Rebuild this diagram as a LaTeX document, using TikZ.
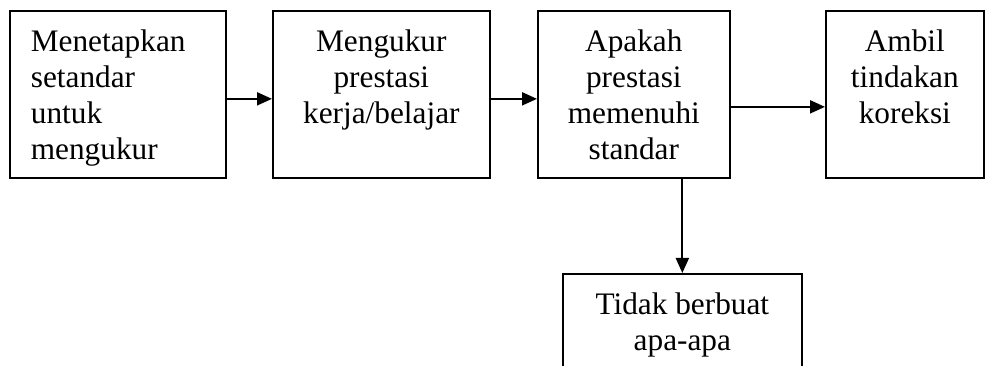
\documentclass[tikz,border=0pt]{standalone}
\usepackage{fontspec}
\setmainfont{Liberation Serif}
\usetikzlibrary{arrows.meta}
\usetikzlibrary{positioning}

\newcommand{\isi}[3][\centering]{\parbox[c][137pt][t]{#2}{#1\strut #3}}

\begin{document}
\begin{tikzpicture}[
  x=1pt, y=-1pt,
  every node/.style={font=\fontsize{31.3}{36}\selectfont},
  kotak/.style={draw, line width=1.7pt, anchor=north west, inner xsep=0pt, inner ysep=15pt},
  panah/.style={line width=2pt, -{Triangle[length=15pt,width=13pt]}}
]
\useasboundingbox (0,0) rectangle (986,366);
\clip (0,0) rectangle (986,366);

\node[kotak, inner xsep=21pt] (tetap) at (9,10) {\isi[\raggedright]{174pt}{Menetapkan\\ setandar\\ untuk\\ mengukur}};
\node[kotak] (ukur) at (272,10) {\isi{217pt}{Mengukur\\ prestasi\\ kerja/belajar}};
\node[kotak] (jawab) at (537,10) {\isi{192pt}{Apakah\\ prestasi\\ memenuhi\\ standar}};
\node[kotak] (koreksi) at (825,10) {\isi{158pt}{Ambil\\ tindakan\\ koreksi}};
\node[kotak] (kosong) at (562,273) {\isi{239pt}{Tidak berbuat\\ apa-apa}};

\draw[panah] ([yshift=-4.5pt]tetap.east) -- ([yshift=-4.5pt]ukur.west);
\draw[panah] ([yshift=-4.5pt]ukur.east) -- ([yshift=-4.5pt]jawab.west);
\draw[panah] ([yshift=-12.5pt]jawab.east) -- ([yshift=-12.5pt]koreksi.west);
\draw[panah] (jawab.south -| kosong.north) -- (kosong.north);
\end{tikzpicture}
\end{document}
